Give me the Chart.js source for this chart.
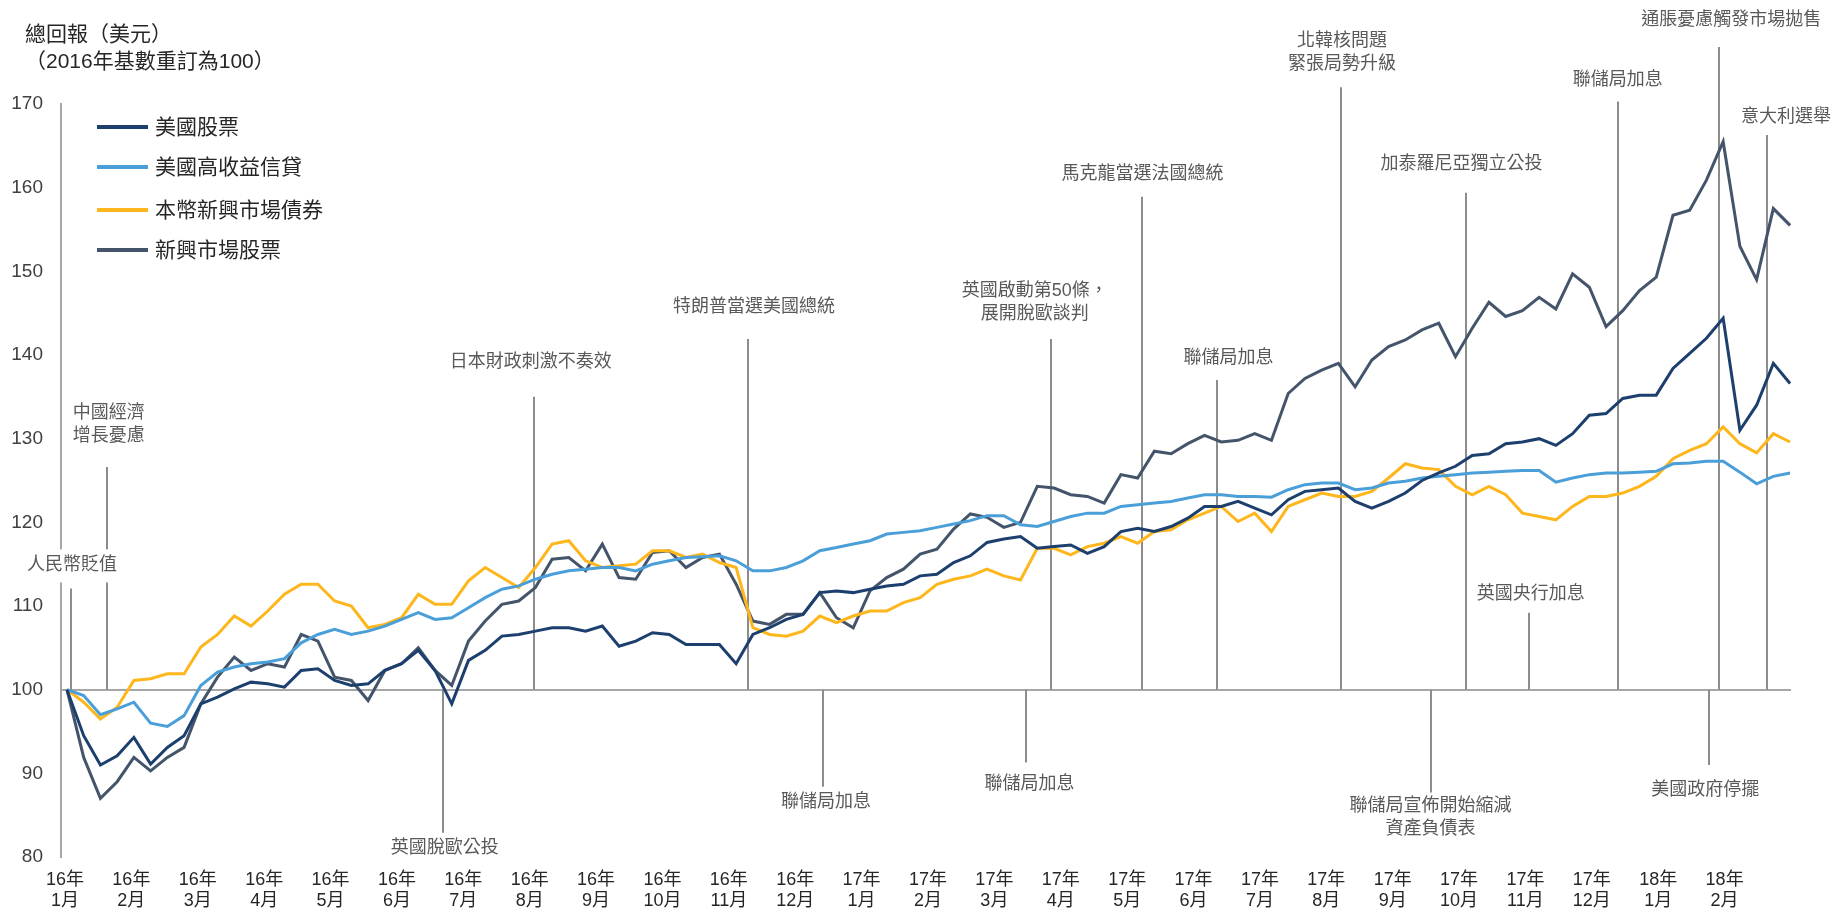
<!DOCTYPE html>
<html lang="zh-Hant">
<head>
<meta charset="utf-8">
<title>總回報（美元）</title>
<script src="https://cdn.jsdelivr.net/npm/chart.js@4.4.1/dist/chart.umd.min.js"></script>
<style>
  html, body { margin: 0; padding: 0; background: #fff; }
  canvas { display: block; }
</style>
</head>
<body>
<canvas id="returnsChart" width="1833" height="914"></canvas>
<script>
// Weekly total return index in USD, rebased to 100 at the start of 2016.
// x is measured in months from Jan 2016; one point per week.
const START = 0.03;
const STEP = 0.252;

const monthTicks = [
  '16年 1月', '16年 2月', '16年 3月', '16年 4月', '16年 5月', '16年 6月',
  '16年 7月', '16年 8月', '16年 9月', '16年 10月', '16年 11月', '16年 12月',
  '17年 1月', '17年 2月', '17年 3月', '17年 4月', '17年 5月', '17年 6月',
  '17年 7月', '17年 8月', '17年 9月', '17年 10月', '17年 11月', '17年 12月',
  '18年 1月', '18年 2月'
];

const seriesNames = ['美國股票', '美國高收益信貸', '本幣新興市場債券', '新興市場股票'];

const usEquity = [
  100, 94.5, 91.0, 92.1, 94.3, 91.1, 93.1, 94.5, 98.3, 99.1,
  100.1, 100.9, 100.7, 100.3, 102.3, 102.5, 101.1, 100.5, 100.7, 102.3,
  103.1, 104.7, 102.3, 98.3, 103.5, 104.7, 106.4, 106.6, 107.0, 107.4,
  107.4, 107.0, 107.6, 105.2, 105.8, 106.8, 106.6, 105.4, 105.4, 105.4,
  103.1, 106.6, 107.4, 108.4, 109.0, 111.6, 111.8, 111.6, 112.0, 112.4,
  112.6, 113.6, 113.8, 115.2, 116.0, 117.6, 118.0, 118.3, 116.9, 117.1,
  117.3, 116.3, 117.1, 118.9, 119.3, 118.9, 119.5, 120.5, 121.9, 121.9,
  122.5, 121.7, 120.9, 122.7, 123.7, 123.9, 124.1, 122.5, 121.7, 122.5,
  123.5, 125.0, 125.9, 126.7, 128.0, 128.2, 129.4, 129.6, 130.0, 129.2,
  130.6, 132.8, 133.0, 134.8, 135.2, 135.2, 138.4, 140.2, 142.0, 144.4,
  131.0, 134.0, 139.0, 136.6
];

const usHighYield = [
  100, 99.3, 97.0, 97.7, 98.5, 96.0, 95.6, 96.9, 100.5, 102.1,
  102.7, 103.1, 103.3, 103.7, 105.6, 106.6, 107.2, 106.6, 107.0, 107.6,
  108.4, 109.2, 108.4, 108.6, 109.8, 111.0, 112.0, 112.4, 113.2, 113.8,
  114.2, 114.4, 114.6, 114.6, 114.2, 115.0, 115.4, 115.8, 115.9, 116.0,
  115.4, 114.2, 114.2, 114.6, 115.4, 116.6, 117.0, 117.4, 117.8, 118.6,
  118.8, 119.0, 119.4, 119.8, 120.2, 120.8, 120.8, 119.7, 119.5, 120.1,
  120.7, 121.1, 121.1, 121.9, 122.1, 122.3, 122.5, 122.9, 123.3, 123.3,
  123.1, 123.1, 123.0, 123.9, 124.5, 124.7, 124.7, 123.9, 124.1, 124.7,
  124.9, 125.3, 125.5, 125.7, 125.9, 126.0, 126.1, 126.2, 126.2, 124.8,
  125.3, 125.7, 125.9, 125.9, 126.0, 126.1, 127.0, 127.1, 127.3, 127.3,
  126.0, 124.6, 125.5, 125.9
];

const emLocalBonds = [
  100, 98.5, 96.5, 97.9, 101.1, 101.3, 101.9, 101.9, 105.1, 106.6,
  108.8, 107.6, 109.4, 111.4, 112.6, 112.6, 110.6, 110.0, 107.4, 107.8,
  108.6, 111.4, 110.2, 110.2, 113.0, 114.6, 113.4, 112.2, 114.6, 117.4,
  117.8, 115.4, 114.6, 114.8, 115.0, 116.6, 116.6, 115.8, 116.2, 115.2,
  114.6, 107.4, 106.6, 106.4, 107.0, 108.8, 108.0, 108.8, 109.4, 109.4,
  110.4, 111.0, 112.6, 113.2, 113.6, 114.4, 113.6, 113.1, 116.9, 116.9,
  116.1, 117.1, 117.5, 118.3, 117.5, 118.9, 119.1, 120.3, 121.1, 121.9,
  120.1, 121.1, 118.9, 121.9, 122.7, 123.5, 123.1, 123.1, 123.7, 125.3,
  127.0, 126.5, 126.3, 124.3, 123.3, 124.3, 123.3, 121.1, 120.7, 120.3,
  121.9, 123.1, 123.1, 123.5, 124.3, 125.5, 127.6, 128.6, 129.4, 131.4,
  129.4, 128.3, 130.6, 129.6
];

const emEquity = [
  100, 91.9, 87.0, 89.0, 91.9, 90.3, 91.9, 93.1, 98.3, 101.5,
  103.9, 102.3, 103.1, 102.7, 106.6, 105.8, 101.5, 101.1, 98.7, 102.3,
  103.1, 105.0, 102.3, 100.5, 105.8, 108.2, 110.2, 110.6, 112.2, 115.6,
  115.8, 114.2, 117.4, 113.4, 113.2, 116.4, 116.6, 114.6, 115.8, 116.2,
  112.6, 108.2, 107.8, 109.0, 109.0, 111.6, 108.6, 107.4, 111.8, 113.4,
  114.4, 116.2, 116.8, 119.2, 121.0, 120.6, 119.4, 120.0, 124.3, 124.1,
  123.3, 123.1, 122.3, 125.7, 125.3, 128.5, 128.2, 129.4, 130.4, 129.6,
  129.8, 130.6, 129.8, 135.4, 137.2, 138.2, 139.0, 136.2, 139.4, 141.0,
  141.8, 143.0, 143.8, 139.8, 143.2, 146.3, 144.6, 145.3, 146.9, 145.5,
  149.7, 148.1, 143.4, 145.3, 147.7, 149.3, 156.7, 157.3, 160.9, 165.5,
  153.0, 149.0, 157.5, 155.5
];

// market events: month position, and the index level where the marker line ends
const events = [
  { text: ['人民幣貶值'], at: 0.09, to: 112.1 },
  { text: ['中國經濟', '增長憂慮'], at: 0.63, to: 126.6 },
  { text: ['英國脫歐公投'], at: 5.69, to: 82.9 },
  { text: ['日本財政刺激不奏效'], at: 7.06, to: 135.0 },
  { text: ['特朗普當選美國總統'], at: 10.29, to: 141.9 },
  { text: ['聯儲局加息'], at: 11.42, to: 88.4 },
  { text: ['聯儲局加息'], at: 14.47, to: 91.3 },
  { text: ['英國啟動第50條，', '展開脫歐談判'], at: 14.85, to: 141.9 },
  { text: ['馬克龍當選法國總統'], at: 16.23, to: 158.9 },
  { text: ['聯儲局加息'], at: 17.36, to: 137.0 },
  { text: ['北韓核問題', '緊張局勢升級'], at: 19.22, to: 172.0 },
  { text: ['聯儲局宣佈開始縮減', '資產負債表'], at: 20.57, to: 87.7 },
  { text: ['加泰羅尼亞獨立公投'], at: 21.11, to: 159.4 },
  { text: ['英國央行加息'], at: 22.05, to: 109.2 },
  { text: ['聯儲局加息'], at: 23.39, to: 170.3 },
  { text: ['美國政府停擺'], at: 24.77, to: 91.0 },
  { text: ['通脹憂慮觸發市場拋售'], at: 24.92, to: 176.8 },
  { text: ['意大利選舉'], at: 25.64, to: 166.3 }
];

const FONT = "'Liberation Sans', 'Noto Sans CJK TC', sans-serif";
const COLORS = ['#1d3f6e', '#4a9fd9', '#fdb61c', '#44546a'];

// label tweaks per event: [dx, gap from line end, white backing]
const notePlacement = [
  [1, 23, true], [2, 31], [2, 15], [-3, 35], [6, 32], [3, 15], [4, 22], [-16, 25], [0, 23],
  [11, 22], [1, 23], [0, 13], [-5, 29], [2, 19], [0, 21], [-4, 25], [12, 27], [19, 18]
];

const toPoints = arr => arr.map((v, i) => ({ x: START + i * STEP, y: v }));

Chart.defaults.font.family = FONT;

const eventNotes = {
  id: 'eventNotes',
  beforeDatasetsDraw(chart) {
    const { ctx, scales: { x, y } } = chart;
    const base = y.getPixelForValue(100);
    ctx.save();
    ctx.strokeStyle = '#8c8c8c';
    ctx.lineWidth = 2;
    events.forEach(ev => {
      const px = Math.round(x.getPixelForValue(ev.at));
      ctx.beginPath();
      ctx.moveTo(px, y.getPixelForValue(ev.to));
      ctx.lineTo(px, base);
      ctx.stroke();
    });
    ctx.restore();
  },
  afterDraw(chart) {
    const { ctx, scales: { x, y } } = chart;
    const lineH = 23;
    ctx.save();
    ctx.font = '18px ' + FONT;
    ctx.textAlign = 'center';
    ctx.textBaseline = 'middle';
    events.forEach((ev, i) => {
      const [dx, gap, mask] = notePlacement[i];
      const cx = x.getPixelForValue(ev.at) + dx;
      const end = y.getPixelForValue(ev.to);
      const n = ev.text.length;
      // above the baseline the text sits over the line, below it hangs under
      const firstY = ev.to > 100 ? end - gap - (n - 1) * lineH : end + gap;
      if (mask) {
        const w = Math.max(...ev.text.map(t => ctx.measureText(t).width));
        ctx.fillStyle = '#fff';
        ctx.fillRect(cx - w / 2 - 4, firstY - 16, w + 8, n * lineH + 10);
      }
      ctx.fillStyle = '#595959';
      ev.text.forEach((t, k) => ctx.fillText(t, cx, firstY + k * lineH));
    });

    // title
    ctx.textAlign = 'left';
    ctx.fillStyle = '#262626';
    ctx.font = '21px ' + FONT;
    ctx.fillText('總回報（美元）', 25, 35);
    ctx.fillText('（2016年基數重訂為100）', 25, 62);

    // legend
    const rows = [127, 167, 210, 250];
    seriesNames.forEach((name, i) => {
      ctx.strokeStyle = COLORS[i];
      ctx.lineWidth = 4;
      ctx.beginPath();
      ctx.moveTo(97, rows[i]);
      ctx.lineTo(148, rows[i]);
      ctx.stroke();
      ctx.fillStyle = '#262626';
      ctx.fillText(name, 155, rows[i] + 1);
    });
    ctx.restore();
  }
};

new Chart(document.getElementById('returnsChart'), {
  type: 'line',
  data: {
    datasets: [usEquity, usHighYield, emLocalBonds, emEquity].map((arr, i) => ({
      label: seriesNames[i],
      data: toPoints(arr),
      borderColor: COLORS[i],
      backgroundColor: COLORS[i],
      borderWidth: 3,
      pointRadius: 0,
      tension: 0,
      fill: false
    }))
  },
  options: {
    responsive: false,
    animation: false,
    devicePixelRatio: 1,
    layout: { padding: { top: 104, right: 42, left: 0, bottom: 0 } },
    plugins: {
      legend: { display: false },
      tooltip: { enabled: false }
    },
    scales: {
      x: {
        type: 'linear',
        min: -0.06,
        max: 26.0,
        afterBuildTicks: scale => {
          scale.ticks = monthTicks.map((_, i) => ({ value: i }));
        },
        afterFit: scale => { scale.height = 57; },
        grid: { display: false },
        border: { display: false },
        ticks: {
          autoSkip: false,
          maxRotation: 0,
          minRotation: 0,
          padding: 4,
          color: '#262626',
          font: { size: 18, lineHeight: 1.2 },
          callback: value => monthTicks[value].split(' ')
        }
      },
      y: {
        min: 80,
        max: 170,
        afterFit: scale => { scale.width = 61; },
        ticks: {
          stepSize: 10,
          padding: 18,
          color: '#404040',
          font: { size: 19 }
        },
        grid: {
          drawTicks: false,
          lineWidth: 2,
          color: ctx => ctx.tick && ctx.tick.value === 100 ? '#a6a6a6' : 'rgba(0,0,0,0)'
        },
        border: { display: true, color: '#a6a6a6', width: 2 }
      }
    }
  },
  plugins: [eventNotes]
});
</script>
</body>
</html>
